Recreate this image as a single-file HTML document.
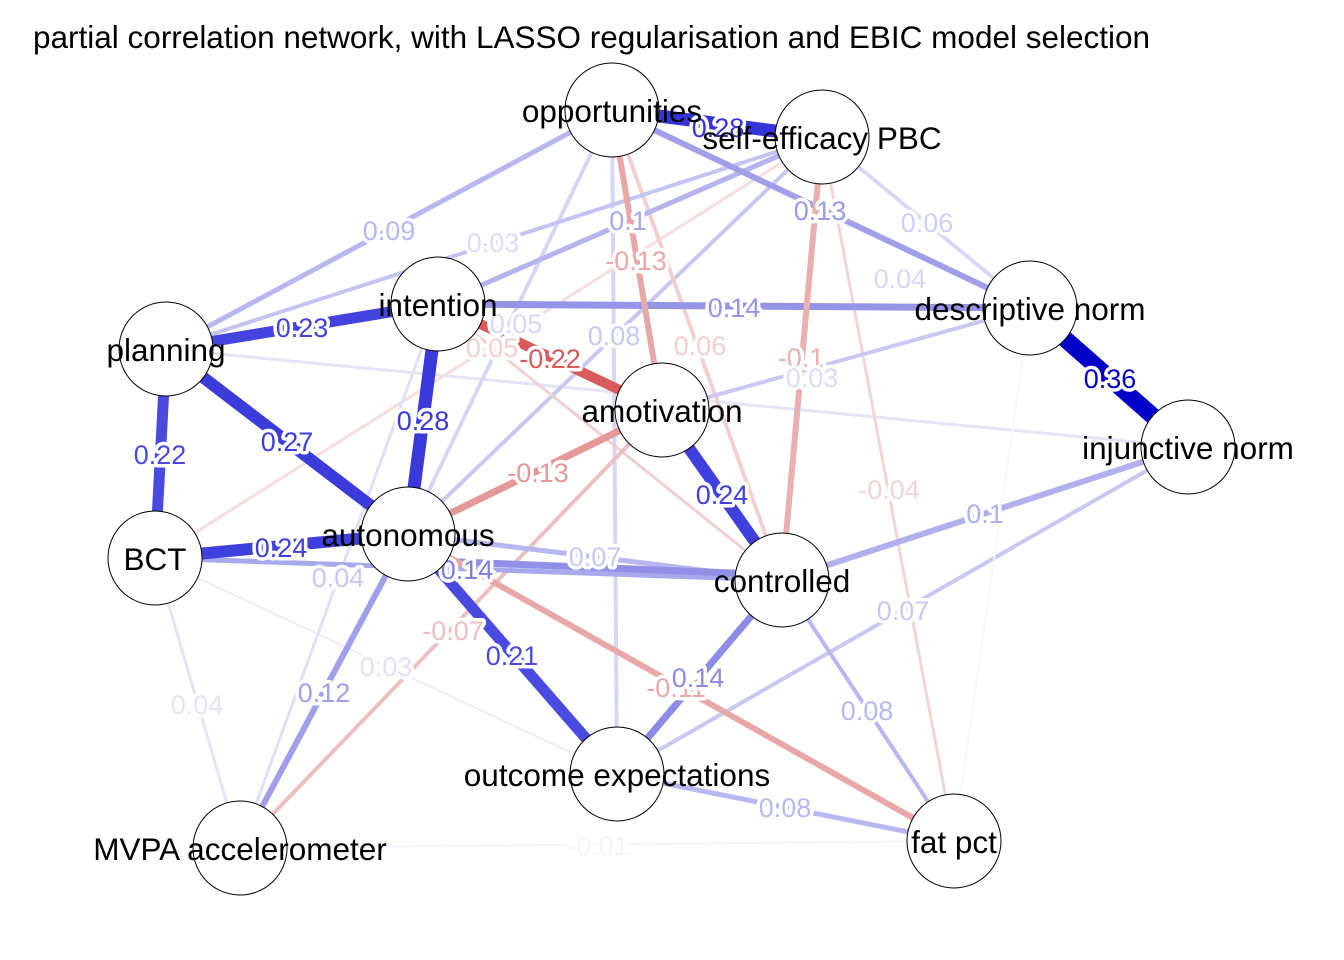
<!DOCTYPE html>
<html><head><meta charset="utf-8"><style>
body{margin:0;background:#fff;}
svg{display:block;font-family:"Liberation Sans",Arial,sans-serif;}
.n{fill:#fff;stroke:#000;stroke-width:1;}
.nl{font-size:31.5px;fill:#000;text-anchor:middle;}
.el{font-size:27px;text-anchor:middle;}
.el text{stroke:#fff;stroke-width:7px;paint-order:stroke;stroke-linejoin:round;}
</style></head><body>
<svg width="1344" height="960" viewBox="0 0 1344 960">
<rect width="1344" height="960" fill="#fff"/>
<text x="33" y="48" font-size="31.5" fill="#000">partial correlation network, with LASSO regularisation and EBIC model selection</text>
<g stroke-linecap="butt" fill="none">
<line x1="240" y1="848" x2="954" y2="841" stroke="#f4f4fc" stroke-width="2"/>
<line x1="155" y1="558" x2="240" y2="848" stroke="#e4e4f8" stroke-width="3"/>
<line x1="166" y1="349" x2="1188" y2="447" stroke="#e4e4f8" stroke-width="3"/>
<line x1="155" y1="558" x2="617" y2="774" stroke="#ececfa" stroke-width="2"/>
<line x1="612" y1="110" x2="617" y2="774" stroke="#d6d6f5" stroke-width="4"/>
<line x1="612" y1="110" x2="408" y2="534" stroke="#d6d6f5" stroke-width="4"/>
<line x1="822" y1="137" x2="408" y2="534" stroke="#c8c8f2" stroke-width="4"/>
<line x1="822" y1="137" x2="155" y2="558" stroke="#f6dede" stroke-width="3"/>
<line x1="612" y1="110" x2="782" y2="580" stroke="#f2d0d0" stroke-width="4"/>
<line x1="822" y1="137" x2="954" y2="841" stroke="#f2d6d6" stroke-width="3"/>
<line x1="612" y1="110" x2="1030" y2="308" stroke="#d8d8f6" stroke-width="3"/>
<line x1="822" y1="137" x2="1030" y2="308" stroke="#d8d8f6" stroke-width="4"/>
<line x1="1030" y1="308" x2="662" y2="410" stroke="#c8c8f2" stroke-width="4"/>
<line x1="1188" y1="447" x2="617" y2="774" stroke="#c8c8f2" stroke-width="4"/>
<line x1="1030" y1="308" x2="954" y2="841" stroke="#f6f6fc" stroke-width="2"/>
<line x1="438" y1="304" x2="822" y2="137" stroke="#b4b4ee" stroke-width="5"/>
<line x1="438" y1="304" x2="782" y2="580" stroke="#f0d0d0" stroke-width="3"/>
<line x1="408" y1="534" x2="617" y2="774" stroke="#e0e0f8" stroke-width="3"/>
<line x1="240" y1="848" x2="662" y2="410" stroke="#ecc0c0" stroke-width="4"/>
<line x1="240" y1="848" x2="438" y2="304" stroke="#e0e0f8" stroke-width="3"/>
<line x1="155" y1="558" x2="782" y2="580" stroke="#a8a8ec" stroke-width="5"/>
<line x1="408" y1="534" x2="782" y2="580" stroke="#b8b8f0" stroke-width="5"/>
<line x1="166" y1="349" x2="612" y2="110" stroke="#b8b8f0" stroke-width="5"/>
<line x1="166" y1="349" x2="822" y2="137" stroke="#c4c4f2" stroke-width="4"/>
<line x1="612" y1="110" x2="1030" y2="308" stroke="#a0a0ea" stroke-width="6"/>
<line x1="438" y1="304" x2="1030" y2="308" stroke="#9494e8" stroke-width="7"/>
<line x1="408" y1="560" x2="782" y2="575" stroke="#9090e6" stroke-width="7"/>
<line x1="782" y1="580" x2="617" y2="774" stroke="#8c8ce6" stroke-width="7"/>
<line x1="782" y1="580" x2="1188" y2="447" stroke="#b0b0ee" stroke-width="6"/>
<line x1="408" y1="534" x2="240" y2="848" stroke="#a0a0ea" stroke-width="6"/>
<line x1="617" y1="774" x2="954" y2="841" stroke="#b8b8f0" stroke-width="5"/>
<line x1="782" y1="580" x2="954" y2="841" stroke="#b8b8f0" stroke-width="4"/>
<line x1="612" y1="110" x2="662" y2="410" stroke="#e8a8a8" stroke-width="6"/>
<line x1="822" y1="137" x2="782" y2="580" stroke="#eab0b0" stroke-width="6"/>
<line x1="408" y1="534" x2="954" y2="841" stroke="#e8a8a8" stroke-width="6"/>
<line x1="408" y1="534" x2="662" y2="410" stroke="#e49898" stroke-width="7"/>
<line x1="438" y1="304" x2="662" y2="410" stroke="#d85a5a" stroke-width="10"/>
<line x1="166" y1="349" x2="438" y2="304" stroke="#4343de" stroke-width="11"/>
<line x1="166" y1="349" x2="408" y2="534" stroke="#3c3cdc" stroke-width="12"/>
<line x1="438" y1="304" x2="408" y2="534" stroke="#3a3adc" stroke-width="13"/>
<line x1="166" y1="349" x2="155" y2="558" stroke="#4a4ae0" stroke-width="11"/>
<line x1="155" y1="558" x2="408" y2="534" stroke="#4040de" stroke-width="12"/>
<line x1="662" y1="410" x2="782" y2="580" stroke="#4040de" stroke-width="12"/>
<line x1="408" y1="534" x2="617" y2="774" stroke="#4a4ae0" stroke-width="11"/>
<line x1="612" y1="110" x2="822" y2="137" stroke="#3434da" stroke-width="13"/>
<line x1="1030" y1="308" x2="1188" y2="447" stroke="#0000c8" stroke-width="17"/>
</g>
<g class="el">
<text x="389" y="240" fill="#b8b8f0">0.09</text>
<text x="493" y="252" fill="#dcdcf8">0.03</text>
<text x="628" y="230" fill="#a8a8ec">0.1</text>
<text x="636" y="270" fill="#eaa8a8">-0.13</text>
<text x="820" y="220" fill="#9a9ae8">0.13</text>
<text x="927" y="232" fill="#d0d0f4">0.06</text>
<text x="900" y="288" fill="#d8d8f6">0.04</text>
<text x="302" y="337" fill="#4343de">0.23</text>
<text x="734" y="317" fill="#9494e8">0.14</text>
<text x="516" y="333" fill="#d8d8f6">0.05</text>
<text x="492" y="357" fill="#f2d0d0">0.05</text>
<text x="550" y="368" fill="#d85a5a">-0.22</text>
<text x="614" y="345" fill="#c8c8f2">0.08</text>
<text x="700" y="355" fill="#f0d0d0">0.06</text>
<text x="801" y="367" fill="#e8b0b0">-0.1</text>
<text x="812" y="387" fill="#dcdcf8">0.03</text>
<text x="1110" y="388" fill="#0000c8">0.36</text>
<text x="423" y="430" fill="#3a3adc">0.28</text>
<text x="287" y="451" fill="#3c3cdc">0.27</text>
<text x="160" y="464" fill="#4a4ae0">0.22</text>
<text x="538" y="482" fill="#e49898">-0.13</text>
<text x="722" y="504" fill="#4040de">0.24</text>
<text x="889" y="499" fill="#f2d6d6">-0.04</text>
<text x="985" y="523" fill="#b0b0ee">0.1</text>
<text x="281" y="557" fill="#4040de">0.24</text>
<text x="338" y="587" fill="#c8c8f2">0.04</text>
<text x="467" y="579" fill="#8080e4">0.14</text>
<text x="595" y="566" fill="#c8c8f2">0.07</text>
<text x="903" y="620" fill="#c8c8f2">0.07</text>
<text x="453" y="640" fill="#ecc0c0">-0.07</text>
<text x="512" y="665" fill="#4a4ae0">0.21</text>
<text x="386" y="676" fill="#e0e0f8">0.03</text>
<text x="324" y="702" fill="#a0a0ea">0.12</text>
<text x="676" y="697" fill="#e8a8a8">-0.11</text>
<text x="698" y="687" fill="#8c8ce6">0.14</text>
<text x="867" y="720" fill="#b8b8f0">0.08</text>
<text x="197" y="714" fill="#e4e4f8">0.04</text>
<text x="785" y="817" fill="#b8b8f0">0.08</text>
<text x="598" y="855" fill="#f4f4fc">-0.01</text>
<text x="718" y="137" fill="#3434da">0.28</text>
</g>
<g>
<circle class="n" cx="612" cy="110" r="47"/>
<circle class="n" cx="822" cy="137" r="47"/>
<circle class="n" cx="1030" cy="308" r="47"/>
<circle class="n" cx="1188" cy="447" r="47"/>
<circle class="n" cx="438" cy="304" r="47"/>
<circle class="n" cx="166" cy="349" r="47"/>
<circle class="n" cx="662" cy="410" r="47"/>
<circle class="n" cx="408" cy="534" r="47"/>
<circle class="n" cx="155" cy="558" r="47"/>
<circle class="n" cx="782" cy="580" r="47"/>
<circle class="n" cx="617" cy="774" r="47"/>
<circle class="n" cx="240" cy="848" r="47"/>
<circle class="n" cx="954" cy="841" r="47"/>
</g>
<g class="nl">
<text x="612" y="122">opportunities</text>
<text x="822" y="149">self-efficacy PBC</text>
<text x="1030" y="320">descriptive norm</text>
<text x="1188" y="459">injunctive norm</text>
<text x="438" y="316">intention</text>
<text x="166" y="361">planning</text>
<text x="662" y="422">amotivation</text>
<text x="408" y="546">autonomous</text>
<text x="155" y="570">BCT</text>
<text x="782" y="592">controlled</text>
<text x="617" y="786">outcome expectations</text>
<text x="240" y="860">MVPA accelerometer</text>
<text x="954" y="853">fat pct</text>
</g>
</svg>
</body></html>
